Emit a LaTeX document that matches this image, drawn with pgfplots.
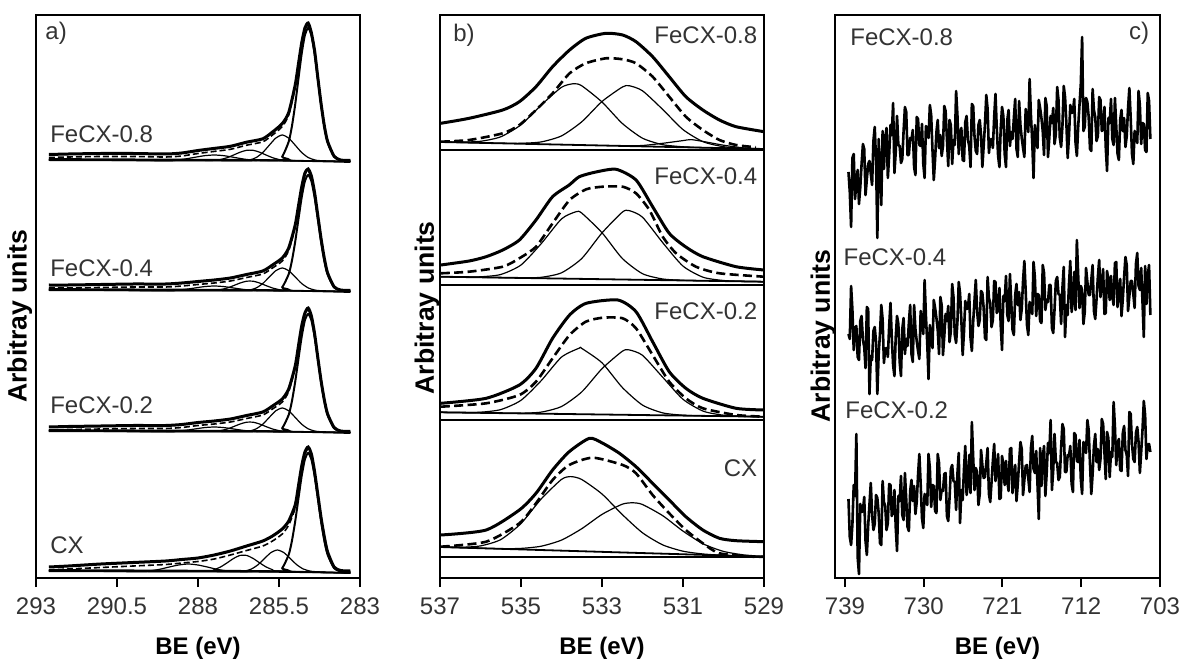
\documentclass[border=0pt]{standalone}
\usepackage{fontspec}
\setmainfont{Liberation Sans}
\usepackage{pgfplots}
\usepackage{pgfplotstable}
\pgfplotsset{compat=1.18}

\pgfplotsset{
  xps/.style={
    scale only axis, width=162pt, height=281.5pt,
    x dir=reverse, ymin=1, ymax=564, enlargelimits=false,
    ytick=\empty, xtick pos=bottom, tick align=outside,
    major tick length=4.5pt,
    axis line style={line width=1pt},
    every tick/.style={black, line width=1pt},
    tick label style={font=\fontsize{12}{14}\selectfont, text=black!80},
    xticklabel style={yshift=-2pt},
    label style={font=\fontsize{12}{14}\selectfont\bfseries},
    xlabel style={yshift=-4pt},
    ylabel style={font=\fontsize{13.3}{15}\selectfont\bfseries},
    xlabel={BE (eV)}, ylabel={Arbitray units},
  },
  expl/.style={black, line width=1.5pt, smooth, tension=0.4},
  envl/.style={black, line width=1.3pt, dash pattern=on 4.5pt off 2.2pt, smooth, tension=0.4},
  envla/.style={black, line width=0.8pt, dash pattern=on 3pt off 1.5pt, smooth, tension=0.4},
  compl/.style={black, line width=0.6pt, smooth, tension=0.4},
  mainl/.style={black, line width=1.0pt, smooth, tension=0.4},
  basel/.style={black, line width=0.9pt},
  noisel/.style={black, line width=1.3pt, line join=round},
}
\tikzset{lab/.style={font=\fontsize{12}{14}\selectfont, text=black!80, inner sep=0pt}}

% Fe 2p region, three samples
\pgfplotstableread{
E s8 s4 s2
738.6 407 245 80
738.45 387 240 42
738.3 352 293 34
738.15 421 269 55
738.0 425 229 94
737.85 380 251 83
737.7 397 253 145
737.55 409 222 22
737.4 375 219 5
737.25 392 258 75
737.1 415 263 67
736.95 435 239 68
736.8 430 232 82
736.65 384 211 38
736.5 400 272 24
736.35 415 270 53
736.2 418 185 75
736.05 405 223 96
735.9 394 219 64
735.75 438 248 49
735.6 452 252 55
735.45 419 237 84
735.3 341 185 81
735.15 440 225 66
735.0 409 245 36
734.85 374 274 34
734.7 448 260 98
734.55 410 216 77
734.4 440 230 73
734.25 451 231 49
734.1 401 222 56
733.95 424 253 95
733.8 454 276 94
733.65 444 241 63
733.5 476 214 67
733.35 406 203 89
733.2 427 242 52
733.05 463 263 28
732.9 434 255 83
732.75 433 217 78
732.6 416 203 103
732.45 420 250 64
732.3 448 261 59
732.15 472 225 106
732.0 467 240 80
731.85 424 233 52
731.7 424 256 48
731.55 441 274 88
731.4 439 225 99
731.25 449 217 78
731.1 412 274 93
730.95 404 250 65
730.8 462 238 77
730.65 460 228 104
730.5 434 220 125
730.35 433 268 95
730.2 455 258 61
730.05 415 245 51
729.9 401 299 85
729.75 453 263 79
729.6 447 236 74
729.45 441 200 125
729.3 474 254 111
729.15 464 241 72
729.0 429 231 94
728.85 399 279 93
728.7 420 271 68
728.55 447 261 66
728.4 459 249 125
728.25 431 225 116
728.1 444 282 79
727.95 423 274 89
727.8 433 224 88
727.65 473 243 105
727.5 468 265 106
727.35 440 258 63
727.2 413 273 58
727.05 459 237 81
726.9 454 248 110
726.75 415 295 114
726.6 439 282 98
726.45 434 244 97
726.3 488 236 69
726.15 464 257 105
726.0 425 297 126
725.85 447 286 56
725.7 451 259 89
725.55 419 224 79
725.4 418 247 110
725.25 457 278 133
725.1 463 270 84
724.95 439 271 95
724.8 433 285 124
724.65 412 241 86
724.5 475 228 157
724.35 473 257 122
724.2 443 278 89
724.05 428 299 111
723.9 425 268 107
723.75 454 253 74
723.6 459 259 85
723.45 444 288 129
723.3 412 286 114
723.15 433 271 101
723.0 455 241 102
722.85 484 239 116
722.7 470 302 131
722.55 426 281 85
722.4 439 276 77
722.25 440 252 97
722.1 431 259 118
721.95 462 298 135
721.8 485 297 98
721.65 450 266 110
721.5 423 270 125
721.35 412 291 80
721.2 451 253 81
721.05 472 229 123
720.9 463 283 114
720.75 425 278 94
720.6 412 303 118
720.45 459 264 98
720.3 469 258 88
720.15 433 305 130
720.0 447 277 131
719.85 440 249 86
719.7 461 244 102
719.55 480 284 114
719.4 430 295 78
719.25 422 274 95
719.1 478 287 117
718.95 454 259 137
718.8 441 270 130
718.65 431 298 84
718.5 422 318 99
718.35 470 288 113
718.2 460 254 114
718.05 447 244 101
717.9 500 277 87
717.75 464 271 131
717.6 437 265 143
717.45 401 317 110
717.3 454 302 106
717.15 441 263 128
717.0 431 285 95
716.85 479 284 60
716.7 471 258 131
716.55 461 256 93
716.4 448 314 122
716.25 424 306 133
716.1 481 269 83
715.95 473 279 106
715.8 422 277 136
715.65 441 294 126
715.5 463 294 159
715.35 456 251 89
715.2 471 246 109
715.05 435 270 145
714.9 445 298 117
714.75 492 302 116
714.6 479 285 99
714.45 441 284 102
714.3 432 255 131
714.15 453 291 155
714.0 493 312 150
713.85 482 242 107
713.7 456 274 107
713.55 421 264 124
713.4 443 295 123
713.25 474 318 133
713.1 466 267 95
712.95 467 278 87
712.8 480 307 146
712.65 436 269 144
712.5 423 339 118
712.35 452 304 117
712.2 474 271 139
712.05 495 293 100
711.9 542 289 85
711.75 448 255 137
711.6 452 267 132
711.45 481 311 126
711.3 477 297 159
711.15 462 284 149
711.0 430 284 115
710.85 428 299 85
710.7 490 314 105
710.55 469 268 133
710.4 462 260 145
710.25 438 280 117
710.1 443 302 130
709.95 482 319 109
709.8 479 282 120
709.65 448 294 160
709.5 450 310 155
709.35 472 265 127
709.2 432 266 100
709.05 408 308 147
708.9 461 299 141
708.75 456 279 102
708.6 480 303 127
708.45 440 283 122
708.3 434 274 177
708.15 481 316 152
708.0 453 317 114
707.85 425 272 136
707.7 419 288 140
707.55 459 300 109
707.4 469 263 108
707.25 448 280 146
707.1 461 302 153
706.95 432 322 129
706.8 443 314 124
706.65 471 268 103
706.5 491 283 167
706.35 461 298 165
706.2 425 298 135
706.05 415 285 120
705.9 448 271 117
705.75 442 315 146
705.6 436 326 152
705.45 488 293 137
705.3 474 289 106
705.15 435 311 127
705.0 456 277 149
704.85 455 242 178
704.7 429 313 164
704.55 427 275 120
704.4 486 303 134
704.25 478 314 135
704.1 440 264 127
}\fetab

\begin{document}
\begin{tikzpicture}
\path[use as bounding box] (0,0) rectangle (592pt,329.5pt);

% ---------------- a) C1s ----------------
\begin{axis}[xps, at={(18pt,40.5pt)}, anchor=south west,
  xmin=283, xmax=293,
  xtick={293,290.5,288,285.5,283}, xticklabels={293,290.5,288,285.5,283},
  ylabel style={at={(axis description cs:-0.05,0.465)}, anchor=center}]
% FeCX-0.8
\addplot[basel] coordinates {(292.6,420) (286,419) (284.6,418) (283.3,417)};
\addplot[compl] coordinates {(292.6,419) (289.0,418.3) (288.7,418.8) (288.4,420) (288.1,421.7) (287.8,423.3) (287.5,424) (287.2,423.3) (286.9,421.7) (286.6,420) (286.3,418.8) (286.0,418.3) (283.3,417.5)};
\addplot[compl] coordinates {(292.6,419) (287.5,418.6) (287.3,419.5) (287.1,421.3) (286.9,424) (286.7,426.8) (286.5,428.7) (286.3,428.7) (286.1,426.8) (285.9,424) (285.7,421.3) (285.5,419.5) (285.3,418.6) (283.3,417.5)};
\addplot[compl] coordinates {(292.6,419) (286.6,418.3) (286.4,419.1) (286.2,421.5) (286.0,426.5) (285.8,433.8) (285.6,440.9) (285.4,444) (285.2,440.9) (285.0,433.8) (284.8,426.5) (284.6,421.5) (284.4,419.1) (284.2,418.3) (283.3,417.5)};
\addplot[mainl] coordinates {(292.6,419) (285.6,418.7) (285.4,422.4) (285.2,437.4) (285.1,453) (285.0,474.5) (284.9,500.2) (284.8,525.3) (284.7,544) (284.6,551) (284.5,544) (284.4,525.3) (284.3,500.2) (284.2,474.5) (284.1,453) (284.0,437.4) (283.8,422.4) (283.6,418.7) (283.3,418)};
\addplot[envla] coordinates {(292.6,421.5) (292,422) (291,422.5) (290,422.5) (289,422) (288.5,423) (288,425.5) (287.5,427.6) (287,429.7) (286.5,433.8) (286,437.2) (285.7,444) (285.4,452.4) (285.2,464) (285.0,492) (284.9,513) (284.8,534) (284.7,549) (284.6,554) (284.5,544) (284.4,526) (284.3,499.5) (284.2,473.5) (284.1,452) (284.0,436.5) (283.8,422.3) (283.6,418.7) (283.3,418.5)};
\addplot[expl] coordinates {(292.6,424.5) (292,425) (291,425.5) (290,425.5) (289,425) (288.5,426) (288,428.5) (287.5,430.6) (287,432.7) (286.5,436.8) (286,440.2) (285.7,447) (285.4,455.4) (285.2,466.5) (285.0,494) (284.9,515) (284.8,536) (284.7,551) (284.6,556) (284.5,546) (284.4,528) (284.3,501) (284.2,475) (284.1,453) (284.0,437.5) (283.8,422.8) (283.6,419) (283.3,418.5)};
% FeCX-0.4
\addplot[basel] coordinates {(292.6,290) (286,289) (284.6,288) (283.3,287)};
\addplot[compl] coordinates {(292.6,289) (289.0,288.2) (288.7,288.7) (288.4,289.6) (288.1,291) (287.8,292.4) (287.5,293) (287.2,292.4) (286.9,291) (286.6,289.6) (286.3,288.7) (286.0,288.2) (283.3,287.5)};
\addplot[compl] coordinates {(292.6,289) (287.5,288.5) (287.3,289.4) (287.1,291) (286.9,293.4) (286.7,296) (286.5,297.8) (286.3,297.8) (286.1,296) (285.9,293.4) (285.7,291) (285.5,289.4) (285.3,288.5) (283.3,287.5)};
\addplot[compl] coordinates {(292.6,289) (286.6,288.3) (286.4,289) (286.2,291.1) (286.0,295.5) (285.8,302) (285.6,308.3) (285.4,311) (285.2,308.3) (285.0,302) (284.8,295.5) (284.6,291.1) (284.4,289) (284.2,288.3) (283.3,287.5)};
\addplot[mainl] coordinates {(292.6,289) (285.6,288.6) (285.4,291.8) (285.2,304.9) (285.1,318.5) (285.0,337.3) (284.9,359.7) (284.8,381.6) (284.7,398) (284.6,404) (284.5,398) (284.4,381.6) (284.3,359.7) (284.2,337.3) (284.1,318.5) (284.0,304.9) (283.8,291.8) (283.6,288.6) (283.3,288)};
\addplot[envla] coordinates {(292.6,291) (292,291) (291,291.5) (290,292) (289,292) (288.5,293) (288,294.5) (287.5,296) (287,298) (286.5,301.5) (286,305) (285.7,311) (285.4,318) (285.2,328.5) (285.0,352) (284.9,371) (284.8,390) (284.7,404) (284.6,408) (284.5,401) (284.4,384) (284.3,361.5) (284.2,338.5) (284.1,319.5) (284.0,305) (283.8,291.7) (283.6,288.7) (283.3,288.5)};
\addplot[expl] coordinates {(292.6,294) (292,294) (291,294.5) (290,295) (289,295) (288.5,296) (288,297.5) (287.5,299) (287,301) (286.5,304.5) (286,308) (285.7,314) (285.4,321) (285.2,331) (285.0,354) (284.9,373) (284.8,392) (284.7,406) (284.6,410) (284.5,403) (284.4,386) (284.3,363) (284.2,340) (284.1,320.5) (284.0,306) (283.8,292.2) (283.6,289) (283.3,288.5)};
% FeCX-0.2
\addplot[basel] coordinates {(292.6,149) (286,148) (284.6,147) (283.3,146)};
\addplot[compl] coordinates {(292.6,148) (289.0,147.2) (288.7,147.7) (288.4,148.6) (288.1,150) (287.8,151.4) (287.5,152) (287.2,151.4) (286.9,150) (286.6,148.6) (286.3,147.7) (286.0,147.2) (283.3,146.5)};
\addplot[compl] coordinates {(292.6,148) (287.5,147.5) (287.3,148.4) (287.1,150) (286.9,152.4) (286.7,155) (286.5,156.8) (286.3,156.8) (286.1,155) (285.9,152.4) (285.7,150) (285.5,148.4) (285.3,147.5) (283.3,146.5)};
\addplot[compl] coordinates {(292.6,148) (286.6,147.3) (286.4,148) (286.2,150.2) (286.0,154.8) (285.8,161.6) (285.6,168.2) (285.4,171) (285.2,168.2) (285.0,161.6) (284.8,154.8) (284.6,150.2) (284.4,148) (284.2,147.3) (283.3,146.5)};
\addplot[mainl] coordinates {(292.6,148) (285.6,147.6) (285.4,150.9) (285.2,164.2) (285.1,178) (285.0,197.2) (284.9,219.9) (284.8,242.2) (284.7,258.9) (284.6,265) (284.5,258.9) (284.4,242.2) (284.3,219.9) (284.2,197.2) (284.1,178) (284.0,164.2) (283.8,150.9) (283.6,147.6) (283.3,147)};
\addplot[envla] coordinates {(292.6,149) (292,149.5) (291,150) (290,150.5) (289,150.5) (288.5,151.5) (288,153.5) (287.5,155) (287,157) (286.5,160.5) (286,164) (285.7,170) (285.4,177) (285.2,187.5) (285.0,211.5) (284.9,231.5) (284.8,251.5) (284.7,264.5) (284.6,269.5) (284.5,261.5) (284.4,243.5) (284.3,220) (284.2,197.5) (284.1,178.5) (284.0,164.5) (283.8,151) (283.6,147.8) (283.3,147.5)};
\addplot[expl] coordinates {(292.6,152) (292,152.5) (291,153) (290,153.5) (289,153.5) (288.5,154.5) (288,156.5) (287.5,158) (287,160) (286.5,163.5) (286,167) (285.7,173) (285.4,180) (285.2,190) (285.0,213) (284.9,233) (284.8,253) (284.7,266) (284.6,271) (284.5,263) (284.4,245) (284.3,221) (284.2,198) (284.1,179) (284.0,165) (283.8,151.5) (283.6,148) (283.3,147.5)};
% CX
\addplot[basel] coordinates {(292.6,9) (286,8) (284.6,7) (283.3,6)};
\addplot[compl] coordinates {(292.6,8) (289.8,7.4) (289.5,8.1) (289.2,9.6) (288.9,11.9) (288.6,14) (288.3,15) (288.0,14) (287.7,11.9) (287.4,9.6) (287.1,8.1) (286.8,7.4) (283.3,6)};
\addplot[compl] coordinates {(292.6,8) (287.7,7.9) (287.5,9.3) (287.3,12.1) (287.1,16.2) (286.9,20.6) (286.7,23.6) (286.5,23.6) (286.3,20.6) (286.1,16.2) (285.9,12.1) (285.7,9.3) (285.5,7.9) (283.3,6)};
\addplot[compl] coordinates {(292.6,8) (286.75,7.3) (286.55,8) (286.35,10) (286.15,14.2) (285.95,20.4) (285.75,26.4) (285.55,29) (285.35,26.4) (285.15,20.4) (284.95,14.2) (284.75,10) (284.55,8) (284.35,7.3) (283.3,6)};
\addplot[mainl] coordinates {(292.6,8) (285.6,7.6) (285.4,10.9) (285.2,24.4) (285.1,38.3) (285.0,57.6) (284.9,80.5) (284.8,103) (284.7,119.8) (284.6,126) (284.5,119.8) (284.4,103) (284.3,80.5) (284.2,57.6) (284.1,38.3) (284.0,24.4) (283.8,10.9) (283.6,7.6) (283.3,7)};
\addplot[envla] coordinates {(292.6,9) (292,10) (291,11.5) (290,13) (289,14.5) (288.5,16) (288,17.5) (287.5,20) (287,24) (286.5,28.5) (286,33) (285.7,38) (285.4,45) (285.2,54) (285.0,71) (284.9,91) (284.8,111) (284.7,125) (284.6,130) (284.5,123) (284.4,105) (284.3,82) (284.2,59) (284.1,40.5) (284.0,26) (283.8,11) (283.6,8) (283.3,7.5)};
\addplot[expl] coordinates {(292.6,12) (292,13) (291,15) (290,16.5) (289,18) (288.5,19.5) (288,21) (287.5,24) (287,28) (286.5,33) (286,38) (285.7,43) (285.4,50) (285.2,58) (285.0,74) (284.9,93) (284.8,113) (284.7,127) (284.6,132) (284.5,125) (284.4,107) (284.3,84) (284.2,61) (284.1,42) (284.0,27) (283.8,12) (283.6,8.5) (283.3,8)};
\node[lab, anchor=west] at (axis cs:292.72,546) {a)};
\node[lab, anchor=west] at (axis cs:292.57,445) {FeCX-0.8};
\node[lab, anchor=west] at (axis cs:292.57,311) {FeCX-0.4};
\node[lab, anchor=west] at (axis cs:292.57,174) {FeCX-0.2};
\node[lab, anchor=west] at (axis cs:292.57,34) {CX};
\end{axis}

% ---------------- b) O1s ----------------
\begin{axis}[xps, at={(220pt,40.5pt)}, anchor=south west,
  xmin=529, xmax=537,
  xtick={537,535,533,531,529}, xticklabels={537,535,533,531,529},
  ylabel style={at={(axis description cs:-0.040,0.48)}, anchor=center}]
% separators
\addplot[basel, line width=1.2pt] coordinates {(537,429) (529,429)};
\addplot[basel, line width=1.2pt] coordinates {(537,294) (529,294)};
\addplot[basel, line width=1.2pt] coordinates {(537,159) (529,159)};
\addplot[basel, line width=1.2pt] coordinates {(537,22.3) (529,22.3)};
% FeCX-0.8
\addplot[basel] coordinates {(537,437) (529,430)};
\addplot[compl] coordinates {(537,437) (536.5,436.9) (536,437.7) (535.5,442.2) (535,454.2) (534.5,474) (534,491.7) (533.7,495.3) (533.5,493.2) (533,477) (532.5,455.6) (532,440.8) (531.5,434.3) (531,432.2) (530.5,431.3) (530,430.9) (529.5,430.4) (529,430)};
\addplot[compl] coordinates {(537,437) (536.5,436.6) (536,436.1) (535.5,435.7) (535,435.7) (534.5,437.1) (534,443.1) (533.5,457.2) (533,477.5) (532.5,491.9) (532.33,493.3) (532,488.2) (531.5,469.5) (531,449.4) (530.5,437.2) (530,432.3) (529.5,430.6) (529,430)};
\addplot[compl] coordinates {(532.5,433.1) (532,433.5) (531.5,435.7) (531,438.4) (530.8,439.4) (530.5,437.5) (530,433.8) (529.5,431.1) (529,430.1)};
\addplot[envl] coordinates {(536.98,437.3) (536.28,439) (535.45,445.7) (535.04,454) (534.63,469) (534.22,485.7) (533.8,505.7) (533.4,515.7) (532.9,520.7) (532.49,519.7) (532.16,515.7) (531.75,502.3) (531.34,482.3) (530.93,462.3) (530.51,449) (530.1,439) (529.69,434) (529.2,431.7)};
\addplot[expl] coordinates {(536.98,455.7) (536.28,460.7) (535.45,469) (535.04,477.3) (534.63,492.3) (534.22,512.3) (533.8,529) (533.4,540.7) (532.9,545.7) (532.49,544) (532.16,537.3) (531.75,522.3) (531.34,502.3) (530.93,482.3) (530.51,469) (530.1,459) (529.69,452.3) (529.0,447.3)};
% FeCX-0.4
\addplot[basel] coordinates {(537,302.3) (529,297.3)};
\addplot[compl] coordinates {(537,302.3) (536.5,302) (536,302.2) (535.5,304.5) (535,314) (534.5,335.4) (534,360.1) (533.64,367.3) (533.5,365.9) (533,346.3) (532.5,320.6) (532,305.3) (531.5,300) (531,298.7) (530.5,298.2) (530,297.9) (529.5,297.6) (529,297.3)};
\addplot[compl] coordinates {(537,302.3) (536.5,302) (536,301.7) (535.5,301.4) (535,301.2) (534.5,301.7) (534,306.2) (533.5,320.5) (533,346.1) (532.5,366.8) (532.33,368.4) (532,361.8) (531.5,336.3) (531,312.9) (530.5,301.7) (530,298.5) (529.5,297.6) (529,297.3)};
\addplot[envl] coordinates {(536.98,305.7) (536.28,307.3) (535.45,312.3) (535.04,320.7) (534.63,332.3) (534.22,355.7) (533.8,379) (533.39,389.7) (532.98,392.3) (532.49,392.3) (532.16,385.7) (531.83,369) (531.5,342.3) (531.17,325.7) (530.68,312.3) (530.1,305.7) (529.0,302.3)};
\addplot[expl] coordinates {(536.98,314) (536.28,318) (535.86,322.3) (535.45,329) (535.04,339) (534.63,359) (534.22,382.3) (533.81,394) (533.56,402.3) (533.15,407) (532.65,409.7) (532.16,399) (531.75,372.3) (531.34,345.7) (530.93,332) (530.51,322.3) (529.69,312.3) (529.0,309)};
% FeCX-0.2
\addplot[basel] coordinates {(537,166.7) (529,162.3)};
\addplot[compl] coordinates {(537,166.7) (536.5,166.4) (536,166.8) (535.5,169.4) (535,178.7) (534.5,198.4) (534,221.9) (533.56,230.9) (533.5,230.6) (533,216.2) (532.5,191.6) (532,173.9) (531.5,166.1) (531,163.8) (530.5,163.1) (530,162.9) (529.5,162.6) (529,162.3)};
\addplot[compl] coordinates {(537,166.7) (536.5,166.4) (536,166.2) (535.5,165.9) (535,165.8) (534.5,166.9) (534,172.5) (533.5,187.1) (533,210.3) (532.5,227.7) (532.33,229.1) (532,223.7) (531.5,201.7) (531,179.7) (530.5,167.8) (530,163.8) (529.5,162.7) (529,162.3)};
\addplot[envl] coordinates {(536.98,172.3) (535.86,175.7) (535.04,184) (534.63,197.3) (534.22,220.7) (533.8,244) (533.4,257.3) (532.98,261.3) (532.49,260.7) (532.16,250.7) (531.75,224) (531.34,197.3) (530.93,180.7) (530.51,170.7) (529.69,164) (529.0,162.3)};
\addplot[expl] coordinates {(536.98,175.7) (535.86,180.7) (535.04,194) (534.63,210.7) (534.22,240.7) (533.8,264) (533.39,275.7) (532.61,279) (532.16,267.3) (531.75,237.3) (531.34,207.3) (530.93,190.7) (530.51,180.7) (529.69,170.7) (529.0,169)};
% CX
\addplot[basel] coordinates {(537,32) (529,22.3)};
\addplot[compl] coordinates {(537,32) (536.5,31.7) (536,33.1) (535.5,39.4) (535,55.5) (534.5,80.1) (534,99.6) (533.77,102.4) (533.5,99.5) (533,85) (532.5,64.5) (532,46.2) (531.5,34.1) (531,27.8) (530.5,25) (530,23.7) (529.5,22.9) (529,22.3)};
\addplot[compl] coordinates {(537,31.9) (536.5,31.3) (536,30.7) (535.5,30.3) (535,30.6) (534.5,32.8) (534,38.9) (533.5,50.3) (533,64.6) (532.5,74.8) (532.24,76.2) (532,74.5) (531.5,63.3) (531,47.9) (530.5,35.1) (530,27.6) (529.5,24.1) (529,22.6)};
\addplot[envl] coordinates {(536.98,32.3) (535.86,37.3) (535.04,55.7) (534.63,75.7) (534.22,99) (533.81,114) (533.23,121.3) (532.49,114) (532.16,105.7) (531.75,84) (531.34,65.7) (530.93,49) (530.51,35.7) (530.1,25.7) (529.28,22.3) (529.0,22.3)};
\addplot[expl] coordinates {(536.98,44) (535.86,49) (535.04,69) (534.63,85.7) (534.22,109) (533.81,127.3) (533.31,140.7) (532.98,135.7) (532.57,125.7) (532.16,112.3) (531.75,95.7) (531.34,79) (530.93,62.3) (530.51,49) (530.1,40.7) (529.69,38.3) (529.0,37.3)};
\node[lab, anchor=west] at (axis cs:536.68,544) {b)};
\node[lab, anchor=east] at (axis cs:529.16,544) {FeCX-0.8};
\node[lab, anchor=east] at (axis cs:529.16,403) {FeCX-0.4};
\node[lab, anchor=east] at (axis cs:529.16,268) {FeCX-0.2};
\node[lab, anchor=east] at (axis cs:529.16,111) {CX};
\end{axis}

% ---------------- c) Fe2p ----------------
\begin{axis}[xps, at={(417.5pt,40.5pt)}, anchor=south west, width=162.5pt,
  xmin=703, xmax=740.14,
  xtick={739,730,721,712,703}, xticklabels={739,730,721,712,703},
  ylabel style={at={(axis description cs:-0.037,0.43)}, anchor=center}]
\addplot[noisel] table[x=E, y=s8] {\fetab};
\addplot[noisel] table[x=E, y=s4] {\fetab};
\addplot[noisel] table[x=E, y=s2] {\fetab};
\node[lab, anchor=west] at (axis cs:738.43,542) {FeCX-0.8};
\node[lab, anchor=east] at (axis cs:704.2,546) {c)};
\node[lab, anchor=west] at (axis cs:739.2,322) {FeCX-0.4};
\node[lab, anchor=west] at (axis cs:739.0,169) {FeCX-0.2};
\end{axis}
\end{tikzpicture}
\end{document}
